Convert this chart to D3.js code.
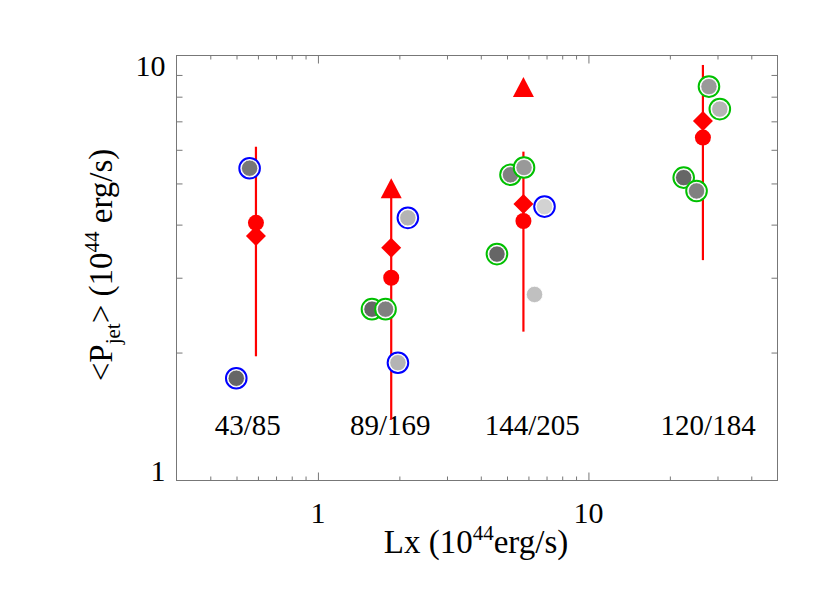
<!DOCTYPE html>
<html><head><meta charset="utf-8">
<script src="https://cdn.jsdelivr.net/npm/d3@7"></script>
<style>body{margin:0;background:#fff}</style>
</head><body>
<svg id="chart" width="830" height="593"></svg>
<script>
// ---- data ----
const groupLabels = ["43/85", "89/169", "144/205", "120/184"];
const labelLx = [0.55, 1.85, 6.2, 27.7];
const labelPjet = 1.28;
const groupLx = [0.59, 1.866, 5.75, 26.5];
const rangeLow = [1.96, 1.39, 2.24, 3.30];
const rangeHigh = [6.10, 4.70, 5.94, 9.50];
const meanPjet = [4.04, 3.00, 4.08, 6.41];     // red circles
const medianPjet = [3.76, 3.53, 4.47, 7.01];   // red diamonds
const maxPjet = [null, 4.87, 8.43, null];      // red triangles

// individual objects
const pointLx   = [0.559, 0.499, 2.15, 1.584, 1.778, 1.976, 5.15, 5.78, 6.88, 4.59, 6.32, 27.9, 30.6, 22.5, 25.1];
const pointPjet = [5.43, 1.74, 4.15, 2.53, 2.53, 1.893, 5.24, 5.45, 4.41, 3.41, 2.74, 8.45, 7.48, 5.16, 4.80];
const pointShade = [2, 1, 4, 1, 3, 4, 3, 3.5, 5, 1, 4.5, 3.5, 4, 1, 3];   // 1 = darkest
const pointRing = ["blue","blue","blue","green","green","blue","green","green","blue","green","none","green","green","green","green"];

const xTickMajor = [1, 10];
const xTickMinor = [0.4,0.5,0.6,0.7,0.8,0.9,2,3,4,5,6,7,8,9,20,30,40];
const yTickMinor = [2,3,4,5,6,7,8,9];
const yTickMajor = [1, 10];

// ---- styles ----
const shadeColor = {1:"#666666",2:"#777777",3:"#808080",3.5:"#999999",4:"#b4b4b4",4.5:"#c0c0c0",5:"#d2d2d2"};
const ringColor = {blue:"#0000ff", green:"#00c000", none:null};
const axisColor = "#777";
const red = "#ff0000";

const svg = d3.select("#chart");
const L = 176.5, R = 777.5, T = 55.5, B = 480.5;
const x = d3.scaleLog().domain([0.3, 50]).range([L, R]);
const y = d3.scaleLog().domain([1, 10]).range([B, T]);

// frame
svg.append("rect").attr("x", L).attr("y", T).attr("width", R - L).attr("height", B - T)
  .attr("fill", "none").attr("stroke", axisColor).attr("stroke-width", 1);

function styleAxis(g){
  g.select(".domain").remove();
  g.selectAll("line").attr("stroke", axisColor);
  g.selectAll("text").remove();
}
// bottom / top ticks
svg.append("g").attr("transform", `translate(0,${B})`)
  .call(d3.axisBottom(x).tickValues(xTickMinor).tickSize(-4).tickFormat("")).call(styleAxis);
svg.append("g").attr("transform", `translate(0,${B})`)
  .call(d3.axisBottom(x).tickValues(xTickMajor).tickSize(-8).tickFormat("")).call(styleAxis);
svg.append("g").attr("transform", `translate(0,${T})`)
  .call(d3.axisTop(x).tickValues(xTickMinor).tickSize(-4).tickFormat("")).call(styleAxis);
svg.append("g").attr("transform", `translate(0,${T})`)
  .call(d3.axisTop(x).tickValues(xTickMajor).tickSize(-8).tickFormat("")).call(styleAxis);
// left / right ticks
svg.append("g").attr("transform", `translate(${L},0)`)
  .call(d3.axisLeft(y).tickValues(yTickMinor).tickSize(-6).tickFormat("")).call(styleAxis);
svg.append("g").attr("transform", `translate(${R},0)`)
  .call(d3.axisRight(y).tickValues(yTickMinor).tickSize(-6).tickFormat("")).call(styleAxis);

const font = "'Liberation Serif', 'Times New Roman', serif";
// x tick labels
svg.selectAll(".xl").data(xTickMajor).enter().append("text")
  .attr("x", d => x(d)).attr("y", B + 42.5).attr("text-anchor", "middle")
  .attr("font-family", font).attr("font-size", 30).text(d => d);
// y tick labels
svg.selectAll(".yl").data(yTickMajor).enter().append("text")
  .attr("x", L - 11).attr("y", d => d === 10 ? y(d) + 20 : y(d))
  .attr("text-anchor", "end").attr("font-family", font).attr("font-size", 30).text(d => d);

// axis titles
const xt = svg.append("text").attr("x", 476).attr("y", 553).attr("text-anchor", "middle")
  .attr("font-family", font).attr("font-size", 33);
xt.append("tspan").text("Lx (10");
xt.append("tspan").attr("font-size", 21).attr("dy", -13).text("44");
xt.append("tspan").attr("dy", 13).text("erg/s)");

const yt = svg.append("text").attr("transform", "translate(112,265) rotate(-90)")
  .attr("text-anchor", "middle").attr("font-family", font).attr("font-size", 33);
yt.append("tspan").text("<P");
yt.append("tspan").attr("font-size", 21).attr("dy", 8).text("jet");
yt.append("tspan").attr("dy", -8).text("> (10");
yt.append("tspan").attr("font-size", 21).attr("dy", -13).text("44");
yt.append("tspan").attr("dy", 13).text(" erg/s)");

// group labels
svg.selectAll(".gl").data(groupLabels).enter().append("text")
  .attr("x", (d, i) => x(labelLx[i])).attr("y", y(labelPjet)).attr("text-anchor", "middle")
  .attr("font-family", font).attr("font-size", 29).text(d => d);

const idx = groupLabels.map((d, i) => i);
// red range lines
svg.selectAll(".rng").data(idx).enter().append("line")
  .attr("x1", i => x(groupLx[i])).attr("x2", i => x(groupLx[i]))
  .attr("y1", i => y(rangeLow[i])).attr("y2", i => y(rangeHigh[i]))
  .attr("stroke", red).attr("stroke-width", 2.2);

// individual points
const pIdx = pointLx.map((d, i) => i);
const pg = svg.selectAll(".pt").data(pIdx).enter().append("g")
  .attr("transform", i => `translate(${x(pointLx[i])},${y(pointPjet[i])})`);
pg.filter(i => pointRing[i] !== "none").append("circle").attr("r", 10.3)
  .attr("fill", "#fff").attr("stroke", i => ringColor[pointRing[i]]).attr("stroke-width", 2);
pg.append("circle").attr("r", 8.2).attr("fill", i => shadeColor[pointShade[i]])
  .attr("stroke", "#fff").attr("stroke-width", 0.8);

// red symbols
svg.selectAll(".mean").data(idx).enter().append("circle")
  .attr("cx", i => x(groupLx[i])).attr("cy", i => y(meanPjet[i])).attr("r", 8).attr("fill", red);
svg.selectAll(".med").data(idx).enter().append("path")
  .attr("d", "M0,-10L10,0L0,10L-10,0Z")
  .attr("transform", i => `translate(${x(groupLx[i])},${y(medianPjet[i])})`).attr("fill", red);
svg.selectAll(".max").data(idx.filter(i => maxPjet[i] !== null)).enter().append("path")
  .attr("d", "M0,-10L10.5,10L-10.5,10Z")
  .attr("transform", i => `translate(${x(groupLx[i])},${y(maxPjet[i])})`).attr("fill", red);
</script>
</body></html>
